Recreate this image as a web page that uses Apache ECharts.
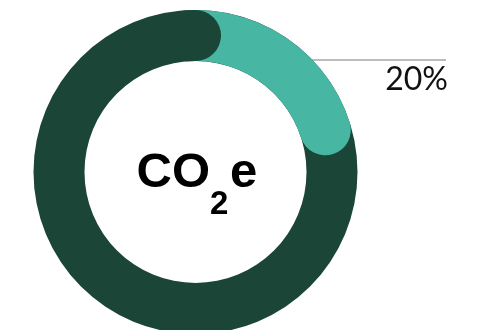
<!DOCTYPE html>
<html><head><meta charset="utf-8">
<script src="https://cdn.jsdelivr.net/npm/echarts@6/dist/echarts.min.js"></script>
<style>html,body{margin:0;padding:0;background:#fff}#c{width:478px;height:330px}</style>
</head><body><div id="c"></div>
<script>
const categories = ['Other emissions', 'Highlighted share'];
const values = [80, 20];
const colors = ['#1a4537', '#47b6a2'];
const centerTitle = ['CO', '2', 'e'];
const labelText = values[1] + '%';

const total = values.reduce((a, b) => a + b, 0);
const capSize = total * 0.01;
const chart = echarts.init(document.getElementById('c'));
const polars = [0, 1, 2].map(() => ({center: [195.5, 172], radius: [111, 162]}));
const angleAxes = [0, 1, 2].map(i => ({polarIndex: i, type: 'value', min: 0, max: total, startAngle: 90, clockwise: true, show: false}));
const radiusAxes = [0, 1, 2].map(i => ({polarIndex: i, type: 'category', data: ['ring'], show: false}));
const common = {type: 'bar', coordinateSystem: 'polar', barCategoryGap: '0%', silent: true, animation: false};
chart.setOption({
  animation: false,
  polar: polars,
  angleAxis: angleAxes,
  radiusAxis: radiusAxes,
  series: [
    Object.assign({}, common, {polarIndex: 0, name: categories[0], data: [total], itemStyle: {color: colors[0]}}),
    Object.assign({}, common, {polarIndex: 1, name: categories[1], data: [values[1]], roundCap: true, itemStyle: {color: colors[1]}}),
    Object.assign({}, common, {polarIndex: 2, stack: 'cap', data: [total - capSize], itemStyle: {color: 'rgba(0,0,0,0)'}}),
    Object.assign({}, common, {polarIndex: 2, stack: 'cap', data: [capSize], roundCap: true, itemStyle: {color: colors[0]}})
  ],
  graphic: [
    {type: 'line', silent: true, shape: {x1: 311, y1: 60, x2: 446, y2: 60}, style: {stroke: '#a6a6a6', lineWidth: 1.5}},
    {type: 'text', silent: true, style: {text: labelText, x: 448, y: 80, align: 'right', verticalAlign: 'middle', font: '400 32px Lato', fill: '#111'}},
    {type: 'text', silent: true, style: {text: centerTitle[0], x: 210, y: 173, align: 'right', verticalAlign: 'middle', font: 'bold 49px "Liberation Sans"', fill: '#000'}},
    {type: 'text', silent: true, style: {text: centerTitle[1], x: 210, y: 205, align: 'left', verticalAlign: 'middle', font: 'bold 33px "Liberation Sans"', fill: '#000'}},
    {type: 'text', silent: true, style: {text: centerTitle[2], x: 230, y: 173, align: 'left', verticalAlign: 'middle', font: 'bold 49px "Liberation Sans"', fill: '#000'}}
  ]
});
</script></body></html>
